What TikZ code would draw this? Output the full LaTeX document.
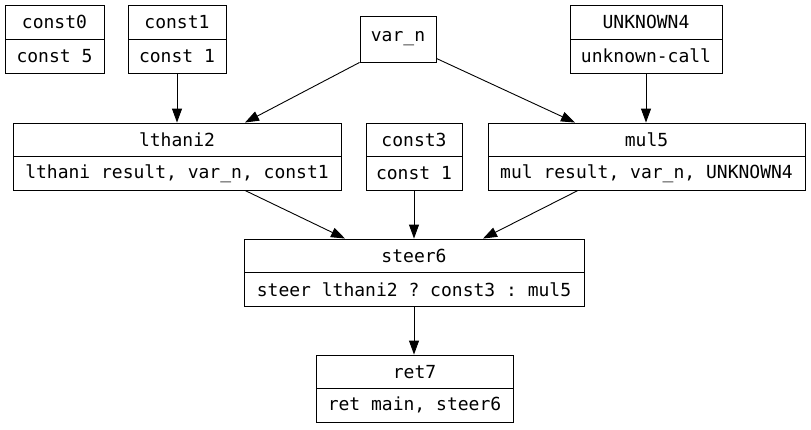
\documentclass[tikz,border=0pt]{standalone}
\usepackage{fontspec}
\setmonofont{DejaVu Sans Mono}
\usetikzlibrary{arrows.meta}
\tikzset{
  cell/.style={draw, line width=0.9pt, inner sep=0pt, font=\ttfamily\fontsize{18}{20}\selectfont},
  edge/.style={line width=0.9pt, -{Triangle[length=14pt,width=10pt]}}
}
% name, xleft, xright, ytop, ybottom, header, body
\newcommand{\recbox}[7]{%
  \node[cell, minimum width={(#3-#2)*1pt}, minimum height={(#5-#4)/2*1pt}] (#1h) at ({(#2+#3)/2}, {(3*#4+#5)/4}) {#6};
  \node[cell, minimum width={(#3-#2)*1pt}, minimum height={(#5-#4)/2*1pt}] (#1b) at ({(#2+#3)/2}, {(#4+3*#5)/4}) {#7};
}
\begin{document}
\begin{tikzpicture}[x=1pt,y=-1pt]
\useasboundingbox (0,0) rectangle (811,429);
\recbox{const0}{5}{104}{5}{73}{const0}{const 5}
\recbox{const1}{128}{226}{5}{73}{const1}{const 1}
\node[cell, minimum width=76pt, minimum height=46pt] (varn) at (398,39) {var\_n};
\recbox{unk4}{570}{722}{5}{73}{UNKNOWN4}{unknown-call}
\recbox{lthani2}{13}{341}{123}{190}{lthani2}{lthani result, var\_n, const1}
\recbox{const3}{366}{462}{123}{190}{const3}{const 1}
\recbox{mul5}{488}{805}{123}{190}{mul5}{mul result, var\_n, UNKNOWN4}
\recbox{steer6}{244}{584}{239}{306}{steer6}{steer lthani2 ? const3 : mul5}
\recbox{ret7}{316}{513}{355}{422}{ret7}{ret main, steer6}

\draw[edge] (const1b.south) -- (const1b.south |- lthani2h.north);
\draw[edge] (varn.south west) -- ([xshift=68pt]lthani2h.north);
\draw[edge] ([yshift=4pt]varn.south east) -- ([xshift=-71.5pt]mul5h.north);
\draw[edge] (unk4b.south) -- (unk4b.south |- mul5h.north);
\draw[edge] ([xshift=68pt]lthani2b.south) -- ([xshift=-69pt]steer6h.north);
\draw[edge] (const3b.south) -- (const3b.south |- steer6h.north);
\draw[edge] ([xshift=-68.5pt]mul5b.south) -- ([xshift=69pt]steer6h.north);
\draw[edge] (steer6b.south) -- (steer6b.south |- ret7h.north);
\end{tikzpicture}
\end{document}
